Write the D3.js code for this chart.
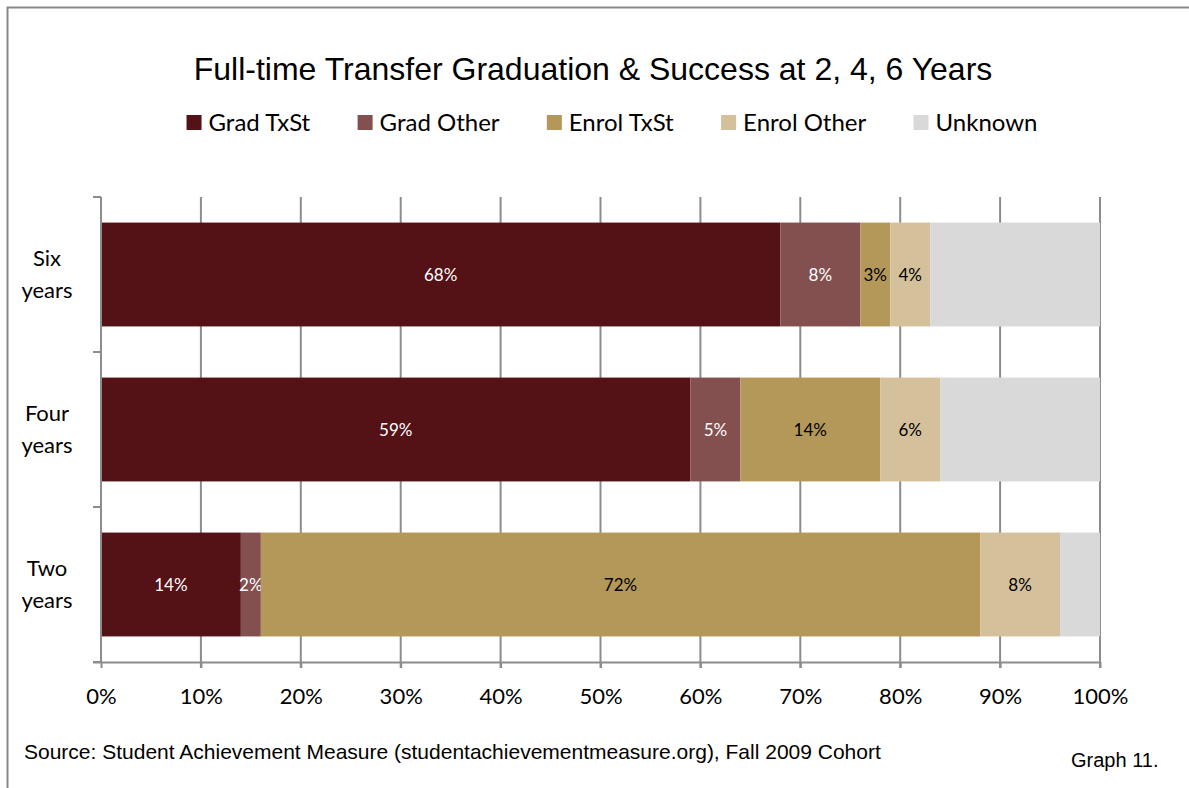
<!DOCTYPE html>
<html lang="en">
<head>
<meta charset="UTF-8">
<script src="https://d3js.org/d3.v7.min.js"></script>
<title>Graph 11</title>
<style>
  body { margin: 0; background: #fff; }
</style>
</head>
<body>
<svg width="1189" height="788"></svg>
<script>
// chart data
var cohorts = ["Six years", "Four years", "Two years"];
var series = ["Grad TxSt", "Grad Other", "Enrol TxSt", "Enrol Other", "Unknown"];
var gradTxSt = [68, 59, 14];
var gradOther = [8, 5, 2];
var enrolTxSt = [3, 14, 72];
var enrolOther = [4, 6, 8];
var unknown = [17, 16, 4];
var xTicks = [0, 10, 20, 30, 40, 50, 60, 70, 80, 90, 100];

var colours = ["#541116", "#834f4f", "#b3985a", "#d4c19c", "#d9d9d9"];
var labelColours = ["#fff", "#fff", "#000", "#000", null];

var svg = d3.select("svg");
var calibri = "Lato, 'Open Sans', sans-serif";
var arial = "'Liberation Sans', Arial, sans-serif";

// outer frame (only top and left show)
svg.append("path")
  .attr("d", "M7.5,788 V7.5 H1189")
  .attr("fill", "none")
  .attr("stroke", "#888")
  .attr("stroke-width", 2);

svg.append("text")
  .attr("x", 593).attr("y", 80)
  .attr("text-anchor", "middle")
  .attr("font-family", arial)
  .attr("font-size", 32)
  .text("Full-time Transfer Graduation & Success at 2, 4, 6 Years");

// stack the data
var rows = cohorts.map(function(c, i) {
  return {cohort: c, "Grad TxSt": gradTxSt[i], "Grad Other": gradOther[i],
    "Enrol TxSt": enrolTxSt[i], "Enrol Other": enrolOther[i], "Unknown": unknown[i]};
});
var stacked = d3.stack().keys(series)(rows);

var x = d3.scaleLinear().domain([0, 100]).range([101, 1100]);
var y = d3.scaleBand().domain(cohorts).range([197, 662]).paddingInner(0.33).paddingOuter(0.165);

// gridlines
svg.append("g").selectAll("line")
  .data(xTicks.slice(1))
  .enter().append("line")
  .attr("x1", function(d) { return x(d); })
  .attr("x2", function(d) { return x(d); })
  .attr("y1", 197).attr("y2", 668)
  .attr("stroke", "#8c8c8c")
  .attr("stroke-width", 2);

// bars
var layers = svg.append("g").selectAll("g")
  .data(stacked)
  .enter().append("g")
  .attr("fill", function(d, i) { return colours[i]; });

layers.selectAll("rect")
  .data(function(d) { return d; })
  .enter().append("rect")
  .attr("x", function(d) { return x(d[0]); })
  .attr("width", function(d) { return x(d[1]) - x(d[0]); })
  .attr("y", function(d) { return y(d.data.cohort); })
  .attr("height", y.bandwidth());

// value labels (not for Unknown)
layers.filter(function(d, i) { return labelColours[i]; })
  .selectAll("text")
  .data(function(d) { return d.map(function(p) { p.idx = d.index; return p; }); })
  .enter().append("text")
  .attr("x", function(d) { return (x(d[0]) + x(d[1])) / 2; })
  .attr("y", function(d) { return y(d.data.cohort) + y.bandwidth() / 2 + 6; })
  .attr("text-anchor", "middle")
  .attr("font-family", calibri)
  .attr("font-size", 17)
  .attr("fill", function(d) { return labelColours[d.idx]; })
  .text(function(d) { return (d[1] - d[0]) + "%"; });

// x axis
var xAxis = svg.append("g")
  .attr("transform", "translate(0,662)")
  .call(d3.axisBottom(x).tickValues(xTicks).tickSize(6).tickFormat(function(d) { return d + "%"; }));
xAxis.select(".domain").attr("d", "M93,0.5H1100").attr("stroke", "#8c8c8c").attr("stroke-width", 2);
xAxis.selectAll(".tick line").attr("stroke", "#8c8c8c").attr("stroke-width", 2);
xAxis.selectAll(".tick text")
  .attr("font-family", calibri)
  .attr("font-size", 22)
  .attr("fill", "#000")
  .attr("dy", "0")
  .attr("y", 42);

// y axis with category boundary ticks
var yAxis = svg.append("g").attr("transform", "translate(101,0)");
yAxis.append("line")
  .attr("x1", 0).attr("x2", 0).attr("y1", 197).attr("y2", 662)
  .attr("stroke", "#8c8c8c").attr("stroke-width", 2);
var bounds = cohorts.map(function(c) { return y(c) - y.step() * y.paddingInner() / 2; }).concat([662]);
yAxis.selectAll("line.tk")
  .data(bounds)
  .enter().append("line")
  .attr("class", "tk")
  .attr("x1", -8).attr("x2", 0)
  .attr("y1", function(d) { return d; }).attr("y2", function(d) { return d; })
  .attr("stroke", "#8c8c8c").attr("stroke-width", 2);

var catLabels = svg.append("g").selectAll("text")
  .data(cohorts)
  .enter().append("text")
  .attr("text-anchor", "middle")
  .attr("font-family", calibri)
  .attr("font-size", 22)
  .attr("x", 47)
  .attr("y", function(d) { return y(d) + y.bandwidth() / 2 - 9; });
catLabels.each(function(d) {
  var words = d.split(" ");
  var t = d3.select(this);
  words.forEach(function(w, i) {
    t.append("tspan").attr("x", 47).attr("dy", i === 0 ? 0 : 32).text(w);
  });
});

// legend
var legend = svg.append("g").attr("transform", "translate(0,122)");
var items = legend.selectAll("g")
  .data(series)
  .enter().append("g");
items.append("rect")
  .attr("width", 15).attr("height", 15)
  .attr("y", -7)
  .attr("fill", function(d, i) { return colours[i]; });
items.append("text")
  .attr("x", 22)
  .attr("y", 9)
  .attr("font-family", calibri)
  .attr("font-size", 24)
  .text(function(d) { return d; });
var pos = 0, gap = 47, starts = [];
items.each(function() {
  starts.push(pos);
  pos += this.getBBox().width + gap;
});
var total = pos - gap;
var left = 612 - total / 2;
items.attr("transform", function(d, i) { return "translate(" + (left + starts[i]) + ",0)"; });

// footer
svg.append("text")
  .attr("x", 24).attr("y", 759)
  .attr("font-family", arial)
  .attr("font-size", 21)
  .text("Source: Student Achievement Measure (studentachievementmeasure.org), Fall 2009 Cohort");
svg.append("text")
  .attr("x", 1071).attr("y", 767)
  .attr("font-family", arial)
  .attr("font-size", 20)
  .text("Graph 11.");
</script>
</body>
</html>
